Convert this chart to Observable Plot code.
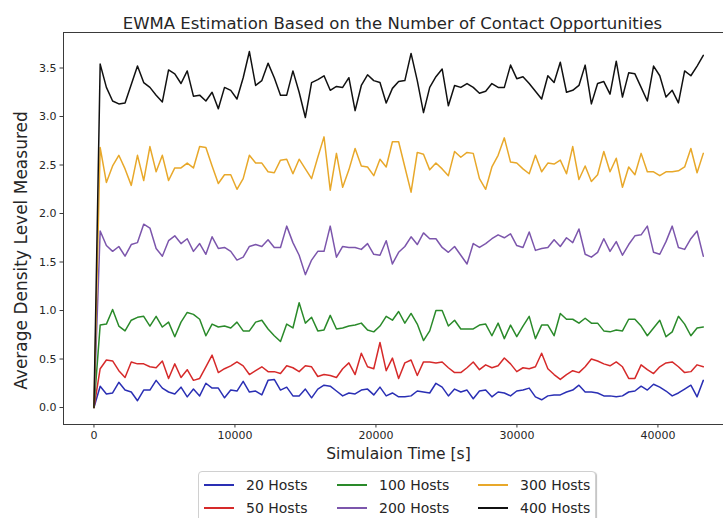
<!DOCTYPE html>
<html>
<head>
<meta charset="utf-8">
<script src="https://cdn.jsdelivr.net/npm/d3@7"></script>
<script src="https://cdn.jsdelivr.net/npm/@observablehq/plot@0.6"></script>
<style>
  html, body { margin: 0; padding: 0; background: #fff; overflow: hidden; }
  #wrap { position: relative; width: 723px; height: 518px; overflow: hidden; font-family: "DejaVu Sans", sans-serif; color: #262626; }
  #chart svg { display: block; overflow: hidden; }
  #legend { position: absolute; left: 198px; top: 471px; width: 398px; height: 60px; box-sizing: border-box;
            border: 1px solid #d0d0d0; border-radius: 4px; background: #fff; box-shadow: 1px 1px 1px rgba(0,0,0,0.25); }
  .item { position: absolute; font-size: 14px; line-height: 16px; white-space: nowrap; color: #262626; }
  .item svg { position: absolute; left: 0; top: 0; }
  .item span { position: absolute; top: 0; }
</style>
</head>
<body>
<div id="wrap">
  <div id="chart"></div>
  <div id="legend"></div>
</div>
<script>
// ---- data ----
const titleText = "EWMA Estimation Based on the Number of Contact Opportunities";
const xLabel = "Simulaion Time [s]";
const yLabel = "Average Density Level Measured";
const xTicks = [0, 10000, 20000, 30000, 40000];
const yTicks = [0, 0.5, 1.0, 1.5, 2.0, 2.5, 3.0, 3.5];
// sample times: 99 samples, 441 s apart
const times = d3.range(0, 43219, 441);

const seriesNames = ["20 Hosts", "50 Hosts", "100 Hosts", "200 Hosts", "300 Hosts", "400 Hosts"];
const seriesColors = ["#2a2fb4", "#d62a2a", "#2a8a2a", "#7c56ac", "#e8a82a", "#111111"];

const hosts20 = [0,
  0.22,0.14,0.15,0.26,0.18,0.16,0.07,0.18,0.18,0.28, 0.20,0.16,0.14,0.21,0.11,0.19,0.12,0.25,0.20,0.20,
  0.10,0.18,0.17,0.27,0.16,0.17,0.13,0.28,0.29,0.18, 0.21,0.12,0.12,0.19,0.10,0.19,0.23,0.22,0.17,0.12,
  0.15,0.14,0.18,0.19,0.13,0.21,0.12,
  0.15,0.11,0.11,0.12,0.17,0.16,0.15,0.25,0.21,0.12, 0.19,0.16,0.18,0.09,0.17,0.18,0.11,0.16,0.15,0.12,
  0.17,0.18,0.20,0.11,0.08,0.12,0.13,0.13,0.16,0.18, 0.23,0.16,0.16,0.15,0.12,0.12,0.11,0.12,0.16,0.17,
  0.22,0.18,0.24,0.21,0.17,0.12,0.15,0.19,0.23,0.11, 0.28];

const hosts50 = [0,
  0.40,0.49,0.48,0.38,0.31,0.47,0.45,0.45,0.42,0.41, 0.48,0.30,0.45,0.31,0.39,0.28,0.30,0.42,0.54,0.36,
  0.40,0.43,0.47,0.43,0.34,0.38,0.42,0.37,0.37,0.35, 0.43,0.41,0.37,0.43,0.42,0.32,0.34,0.33,0.31,0.40,
  0.46,0.34,0.56,0.42,0.40,0.67,0.38,
  0.51,0.30,0.46,0.49,0.33,0.47,0.47,0.46,0.47,0.41, 0.36,0.36,0.41,0.47,0.39,0.44,0.41,0.43,0.51,0.45,
  0.37,0.41,0.40,0.42,0.56,0.40,0.34,0.29,0.34,0.38, 0.36,0.42,0.50,0.48,0.45,0.43,0.47,0.42,0.30,0.30,
  0.44,0.39,0.35,0.42,0.46,0.47,0.42,0.36,0.37,0.44, 0.42];

const hosts100 = [0,
  0.85,0.86,1.01,0.84,0.79,0.90,0.93,0.94,0.84,0.94, 0.83,0.88,0.73,0.88,0.98,0.96,0.91,0.74,0.86,0.83,
  0.84,0.82,0.88,0.79,0.79,0.88,0.90,0.81,0.74,0.68, 0.86,0.82,1.08,0.87,0.93,0.79,0.80,0.95,0.81,0.82,
  0.84,0.85,0.87,0.80,0.78,0.84,0.94,
  0.90,0.99,0.87,0.97,0.86,0.69,0.79,1.00,1.00,0.84, 0.90,0.81,0.81,0.81,0.85,0.86,0.74,0.87,0.71,0.85,
  0.73,0.84,0.94,0.71,0.85,0.85,0.74,0.97,0.91,0.91, 0.87,0.92,0.87,0.87,0.79,0.78,0.80,0.79,0.91,0.91,
  0.84,0.74,0.82,0.90,0.73,0.78,0.94,0.86,0.74,0.82, 0.83];

const hosts200 = [0,
  1.82,1.67,1.61,1.66,1.56,1.68,1.70,1.89,1.85,1.64, 1.56,1.72,1.77,1.69,1.74,1.61,1.69,1.58,1.76,1.64,
  1.65,1.61,1.52,1.55,1.66,1.68,1.66,1.73,1.65,1.65, 1.87,1.70,1.57,1.37,1.52,1.61,1.61,1.87,1.55,1.66,
  1.65,1.65,1.63,1.69,1.58,1.57,1.72,
  1.48,1.60,1.66,1.76,1.68,1.80,1.74,1.74,1.65,1.60, 1.66,1.57,1.48,1.69,1.65,1.69,1.74,1.78,1.75,1.79,
  1.67,1.65,1.81,1.62,1.64,1.65,1.73,1.66,1.75,1.70, 1.84,1.58,1.55,1.60,1.74,1.61,1.71,1.57,1.68,1.77,
  1.78,1.87,1.60,1.58,1.71,1.87,1.65,1.63,1.74,1.82, 1.56];

const hosts300 = [0,
  2.68,2.32,2.49,2.60,2.46,2.29,2.60,2.34,2.69,2.43, 2.60,2.34,2.47,2.47,2.52,2.47,2.69,2.68,2.49,2.31,
  2.40,2.40,2.25,2.36,2.60,2.52,2.52,2.43,2.42,2.55, 2.56,2.41,2.56,2.46,2.36,2.58,2.79,2.24,2.62,2.27,
  2.45,2.67,2.49,2.48,2.39,2.56,2.48,
  2.74,2.74,2.48,2.22,2.63,2.61,2.45,2.52,2.46,2.39, 2.64,2.58,2.63,2.62,2.36,2.25,2.48,2.60,2.78,2.53,
  2.52,2.46,2.41,2.60,2.43,2.52,2.51,2.55,2.41,2.69, 2.35,2.49,2.33,2.40,2.64,2.43,2.57,2.27,2.48,2.40,
  2.62,2.43,2.43,2.39,2.43,2.43,2.44,2.48,2.67,2.42, 2.62];

const hosts400 = [0,
  3.54,3.30,3.16,3.13,3.14,3.33,3.52,3.35,3.30,3.22, 3.15,3.48,3.44,3.34,3.47,3.21,3.22,3.16,3.25,3.08,
  3.30,3.27,3.18,3.40,3.67,3.32,3.37,3.55,3.40,3.22, 3.22,3.47,3.25,2.99,3.35,3.38,3.42,3.27,3.31,3.30,
  3.40,3.06,3.32,3.43,3.37,3.35,3.14,
  3.29,3.36,3.37,3.65,3.37,3.04,3.30,3.41,3.49,3.11, 3.32,3.30,3.34,3.30,3.24,3.26,3.34,3.30,3.30,3.53,
  3.39,3.41,3.34,3.26,3.18,3.42,3.35,3.56,3.25,3.27, 3.32,3.53,3.13,3.34,3.36,3.23,3.57,3.20,3.45,3.44,
  3.30,3.16,3.52,3.42,3.20,3.27,3.14,3.47,3.42,3.52, 3.63];

const seriesValues = [hosts20, hosts50, hosts100, hosts200, hosts300, hosts400];

// ---- build table ----
const rows = [];
seriesNames.forEach((name, k) => {
  seriesValues[k].forEach((v, i) => rows.push({t: times[i], v, name}));
});

const chart = Plot.plot({
  width: 723,
  height: 518,
  marginTop: 32,
  marginLeft: 63,
  marginRight: -10,
  marginBottom: 94,
  style: {fontFamily: "DejaVu Sans, sans-serif", color: "#262626", background: "#fff"},
  x: {domain: [-2160, 45360]},
  y: {domain: [-0.175, 3.866]},
  color: {domain: seriesNames, range: seriesColors},
  marks: [
    Plot.line(rows, {x: "t", y: "v", z: "name", stroke: "name", strokeWidth: 1.5, strokeLinejoin: "round"}),
    Plot.frame({stroke: "#3a3a3a", strokeWidth: 1}),
    Plot.axisX({ticks: xTicks, tickFormat: d => String(d), tickSize: 3.5, tickPadding: 3.5, fontSize: 11, label: null, stroke: "#3a3a3a"}),
    Plot.axisY({ticks: yTicks, tickFormat: d3.format(".1f"), tickSize: 3.5, tickPadding: 3.5, fontSize: 11, label: null, stroke: "#3a3a3a"}),
    Plot.text([xLabel], {frameAnchor: "bottom", dy: 34, fontSize: 15.5, fill: "#262626"}),
    Plot.text([yLabel], {frameAnchor: "left", textAnchor: "middle", dx: -42, dy: 22, rotate: -90, fontSize: 17, fill: "#262626"}),
    Plot.text([titleText], {frameAnchor: "top", dx: -6, dy: -15, fontSize: 16.5, fill: "#262626"})
  ]
});
document.getElementById("chart").appendChild(chart);

// ---- legend ----
const legend = document.getElementById("legend");
const colX = [4, 137, 278];      // swatch left offsets within legend box
const rowY = [5, 28];
const order = [[0, 2, 4], [1, 3, 5]];
order.forEach((row, r) => row.forEach((k, c) => {
  const it = document.createElement("div");
  it.className = "item";
  it.style.left = colX[c] + "px";
  it.style.top = rowY[r] + "px";
  it.innerHTML = `<svg width="32" height="16"><line x1="1" x2="31" y1="8" y2="8" stroke="${seriesColors[k]}" stroke-width="2"/></svg><span style="left:43px">${seriesNames[k]}</span>`;
  legend.appendChild(it);
}));
</script>
</body>
</html>
